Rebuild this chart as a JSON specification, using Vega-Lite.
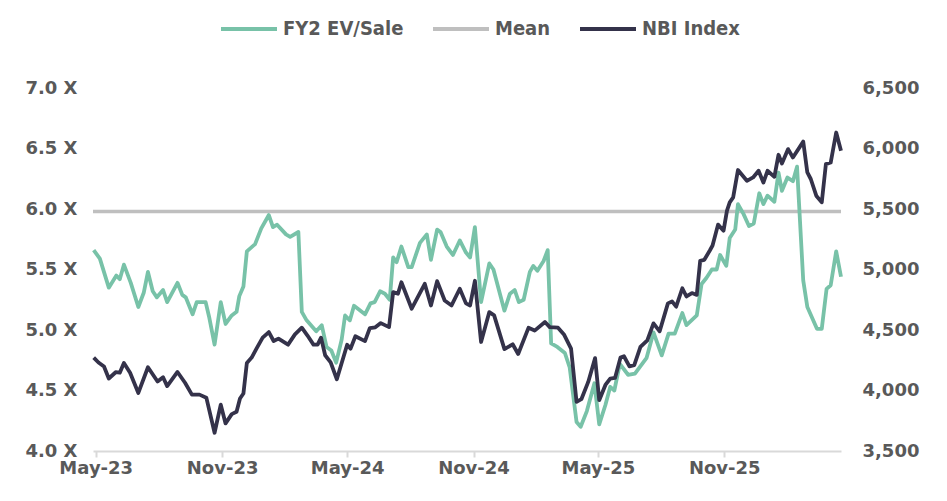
{
  "$schema": "https://vega.github.io/schema/vega-lite/v6.json",
  "width": 748,
  "height": 363,
  "autosize": "none",
  "padding": {"left": 93, "top": 88, "right": 106, "bottom": 50},
  "background": "white",
  "config": {
    "view": {"stroke": null},
    "font": "DejaVu Sans",
    "axis": {"labelFont": "DejaVu Sans", "labelFontWeight": "bold", "labelFontSize": 18, "labelColor": "#595959", "grid": false, "title": null}
  },
  "datasets": {
    "ev": [
      {"date": "2023-04-28", "v": 5.66}, {"date": "2023-05-07", "v": 5.59}, {"date": "2023-05-20", "v": 5.35}, {"date": "2023-05-31", "v": 5.45},
      {"date": "2023-06-05", "v": 5.42}, {"date": "2023-06-11", "v": 5.54}, {"date": "2023-06-21", "v": 5.39}, {"date": "2023-07-02", "v": 5.19},
      {"date": "2023-07-10", "v": 5.31}, {"date": "2023-07-16", "v": 5.48}, {"date": "2023-07-23", "v": 5.32}, {"date": "2023-07-29", "v": 5.27},
      {"date": "2023-08-07", "v": 5.33}, {"date": "2023-08-13", "v": 5.23}, {"date": "2023-08-28", "v": 5.39}, {"date": "2023-09-04", "v": 5.29},
      {"date": "2023-09-09", "v": 5.27}, {"date": "2023-09-19", "v": 5.13}, {"date": "2023-09-25", "v": 5.23}, {"date": "2023-10-08", "v": 5.23},
      {"date": "2023-10-13", "v": 5.11}, {"date": "2023-10-21", "v": 4.88}, {"date": "2023-10-30", "v": 5.23}, {"date": "2023-11-06", "v": 5.05},
      {"date": "2023-11-15", "v": 5.12}, {"date": "2023-11-22", "v": 5.15}, {"date": "2023-11-26", "v": 5.28}, {"date": "2023-12-02", "v": 5.36},
      {"date": "2023-12-07", "v": 5.65}, {"date": "2023-12-19", "v": 5.71}, {"date": "2023-12-28", "v": 5.84}, {"date": "2024-01-08", "v": 5.95},
      {"date": "2024-01-14", "v": 5.85}, {"date": "2024-01-20", "v": 5.87}, {"date": "2024-02-02", "v": 5.79}, {"date": "2024-02-08", "v": 5.77},
      {"date": "2024-02-20", "v": 5.81}, {"date": "2024-02-25", "v": 5.15}, {"date": "2024-03-03", "v": 5.08}, {"date": "2024-03-17", "v": 4.99},
      {"date": "2024-03-25", "v": 5.04}, {"date": "2024-04-01", "v": 4.86}, {"date": "2024-04-08", "v": 4.83}, {"date": "2024-04-15", "v": 4.73},
      {"date": "2024-04-23", "v": 4.92}, {"date": "2024-04-28", "v": 5.12}, {"date": "2024-05-05", "v": 5.08}, {"date": "2024-05-11", "v": 5.2},
      {"date": "2024-05-27", "v": 5.13}, {"date": "2024-06-04", "v": 5.22}, {"date": "2024-06-10", "v": 5.23}, {"date": "2024-06-18", "v": 5.32},
      {"date": "2024-06-25", "v": 5.3}, {"date": "2024-07-02", "v": 5.25}, {"date": "2024-07-07", "v": 5.6}, {"date": "2024-07-12", "v": 5.56},
      {"date": "2024-07-19", "v": 5.69}, {"date": "2024-07-29", "v": 5.52}, {"date": "2024-08-03", "v": 5.52}, {"date": "2024-08-15", "v": 5.72},
      {"date": "2024-08-25", "v": 5.79}, {"date": "2024-08-31", "v": 5.58}, {"date": "2024-09-09", "v": 5.83}, {"date": "2024-09-14", "v": 5.81},
      {"date": "2024-09-23", "v": 5.69}, {"date": "2024-10-02", "v": 5.62}, {"date": "2024-10-12", "v": 5.74}, {"date": "2024-10-21", "v": 5.64},
      {"date": "2024-10-27", "v": 5.6}, {"date": "2024-11-03", "v": 5.85}, {"date": "2024-11-12", "v": 5.23}, {"date": "2024-11-24", "v": 5.55},
      {"date": "2024-11-30", "v": 5.5}, {"date": "2024-12-16", "v": 5.16}, {"date": "2024-12-24", "v": 5.3}, {"date": "2024-12-31", "v": 5.33},
      {"date": "2025-01-06", "v": 5.23}, {"date": "2025-01-13", "v": 5.25}, {"date": "2025-01-22", "v": 5.48}, {"date": "2025-01-27", "v": 5.53},
      {"date": "2025-02-02", "v": 5.49}, {"date": "2025-02-11", "v": 5.57}, {"date": "2025-02-17", "v": 5.66}, {"date": "2025-02-22", "v": 4.89},
      {"date": "2025-03-03", "v": 4.86}, {"date": "2025-03-14", "v": 4.81}, {"date": "2025-03-21", "v": 4.69}, {"date": "2025-03-31", "v": 4.24},
      {"date": "2025-04-06", "v": 4.2}, {"date": "2025-04-15", "v": 4.33}, {"date": "2025-04-26", "v": 4.56}, {"date": "2025-05-03", "v": 4.22},
      {"date": "2025-05-12", "v": 4.38}, {"date": "2025-05-19", "v": 4.53}, {"date": "2025-05-25", "v": 4.5}, {"date": "2025-06-02", "v": 4.72},
      {"date": "2025-06-14", "v": 4.63}, {"date": "2025-06-24", "v": 4.64}, {"date": "2025-07-11", "v": 4.77}, {"date": "2025-07-21", "v": 4.98},
      {"date": "2025-08-02", "v": 4.79}, {"date": "2025-08-12", "v": 4.97}, {"date": "2025-08-21", "v": 4.97}, {"date": "2025-09-01", "v": 5.14},
      {"date": "2025-09-07", "v": 5.04}, {"date": "2025-09-22", "v": 5.12}, {"date": "2025-09-29", "v": 5.38}, {"date": "2025-10-06", "v": 5.43},
      {"date": "2025-10-14", "v": 5.5}, {"date": "2025-10-21", "v": 5.5}, {"date": "2025-10-26", "v": 5.62}, {"date": "2025-11-04", "v": 5.53},
      {"date": "2025-11-09", "v": 5.76}, {"date": "2025-11-17", "v": 5.83}, {"date": "2025-11-21", "v": 6.04}, {"date": "2025-11-29", "v": 5.96},
      {"date": "2025-12-07", "v": 5.86}, {"date": "2025-12-14", "v": 5.88}, {"date": "2025-12-22", "v": 6.13}, {"date": "2025-12-28", "v": 6.04},
      {"date": "2026-01-03", "v": 6.11}, {"date": "2026-01-13", "v": 6.06}, {"date": "2026-01-19", "v": 6.3}, {"date": "2026-01-24", "v": 6.15},
      {"date": "2026-02-01", "v": 6.26}, {"date": "2026-02-09", "v": 6.23}, {"date": "2026-02-15", "v": 6.35}, {"date": "2026-02-24", "v": 5.41},
      {"date": "2026-03-02", "v": 5.19}, {"date": "2026-03-16", "v": 5.01}, {"date": "2026-03-23", "v": 5.01}, {"date": "2026-03-30", "v": 5.34},
      {"date": "2026-04-05", "v": 5.37}, {"date": "2026-04-13", "v": 5.65}, {"date": "2026-04-20", "v": 5.44}
    ],
    "nbi": [
      {"date": "2023-04-28", "v": 4272}, {"date": "2023-05-05", "v": 4231}, {"date": "2023-05-13", "v": 4198}, {"date": "2023-05-20", "v": 4099},
      {"date": "2023-05-30", "v": 4151}, {"date": "2023-06-05", "v": 4147}, {"date": "2023-06-11", "v": 4228}, {"date": "2023-06-20", "v": 4147},
      {"date": "2023-07-02", "v": 3980}, {"date": "2023-07-16", "v": 4192}, {"date": "2023-07-30", "v": 4074}, {"date": "2023-08-07", "v": 4110},
      {"date": "2023-08-13", "v": 4036}, {"date": "2023-08-28", "v": 4153}, {"date": "2023-09-08", "v": 4064}, {"date": "2023-09-18", "v": 3966},
      {"date": "2023-09-29", "v": 3966}, {"date": "2023-10-09", "v": 3941}, {"date": "2023-10-21", "v": 3651}, {"date": "2023-10-30", "v": 3883},
      {"date": "2023-11-06", "v": 3728}, {"date": "2023-11-15", "v": 3805}, {"date": "2023-11-22", "v": 3824}, {"date": "2023-11-27", "v": 3934},
      {"date": "2023-12-02", "v": 3975}, {"date": "2023-12-07", "v": 4228}, {"date": "2023-12-14", "v": 4272}, {"date": "2023-12-21", "v": 4346},
      {"date": "2023-12-30", "v": 4437}, {"date": "2024-01-08", "v": 4483}, {"date": "2024-01-15", "v": 4409}, {"date": "2024-01-22", "v": 4429},
      {"date": "2024-02-05", "v": 4379}, {"date": "2024-02-15", "v": 4464}, {"date": "2024-02-25", "v": 4519}, {"date": "2024-03-04", "v": 4456},
      {"date": "2024-03-13", "v": 4379}, {"date": "2024-03-19", "v": 4379}, {"date": "2024-03-24", "v": 4437}, {"date": "2024-03-30", "v": 4291},
      {"date": "2024-04-07", "v": 4233}, {"date": "2024-04-16", "v": 4093}, {"date": "2024-05-01", "v": 4378}, {"date": "2024-05-06", "v": 4346},
      {"date": "2024-05-13", "v": 4448}, {"date": "2024-05-27", "v": 4408}, {"date": "2024-06-03", "v": 4515}, {"date": "2024-06-11", "v": 4522},
      {"date": "2024-06-19", "v": 4557}, {"date": "2024-07-01", "v": 4524}, {"date": "2024-07-07", "v": 4813}, {"date": "2024-07-14", "v": 4800},
      {"date": "2024-07-19", "v": 4895}, {"date": "2024-08-03", "v": 4676}, {"date": "2024-08-22", "v": 4882}, {"date": "2024-08-31", "v": 4703},
      {"date": "2024-09-09", "v": 4904}, {"date": "2024-09-20", "v": 4744}, {"date": "2024-09-30", "v": 4703}, {"date": "2024-10-12", "v": 4841},
      {"date": "2024-10-21", "v": 4720}, {"date": "2024-10-27", "v": 4703}, {"date": "2024-11-03", "v": 4907}, {"date": "2024-11-12", "v": 4401},
      {"date": "2024-11-24", "v": 4648}, {"date": "2024-12-01", "v": 4621}, {"date": "2024-12-16", "v": 4342}, {"date": "2024-12-28", "v": 4382},
      {"date": "2025-01-05", "v": 4302}, {"date": "2025-01-20", "v": 4518}, {"date": "2025-01-29", "v": 4495}, {"date": "2025-02-13", "v": 4566},
      {"date": "2025-02-20", "v": 4524}, {"date": "2025-03-04", "v": 4519}, {"date": "2025-03-13", "v": 4460}, {"date": "2025-03-23", "v": 4346},
      {"date": "2025-03-31", "v": 3906}, {"date": "2025-04-07", "v": 3928}, {"date": "2025-04-17", "v": 4071}, {"date": "2025-04-27", "v": 4268},
      {"date": "2025-05-03", "v": 3920}, {"date": "2025-05-12", "v": 4046}, {"date": "2025-05-19", "v": 4099}, {"date": "2025-05-26", "v": 4104},
      {"date": "2025-06-03", "v": 4272}, {"date": "2025-06-08", "v": 4283}, {"date": "2025-06-16", "v": 4200}, {"date": "2025-06-23", "v": 4209},
      {"date": "2025-07-02", "v": 4360}, {"date": "2025-07-12", "v": 4415}, {"date": "2025-07-21", "v": 4555}, {"date": "2025-07-30", "v": 4489},
      {"date": "2025-08-11", "v": 4720}, {"date": "2025-08-17", "v": 4736}, {"date": "2025-08-23", "v": 4693}, {"date": "2025-09-01", "v": 4845},
      {"date": "2025-09-07", "v": 4777}, {"date": "2025-09-15", "v": 4805}, {"date": "2025-09-22", "v": 4790}, {"date": "2025-09-27", "v": 5072},
      {"date": "2025-10-03", "v": 5080}, {"date": "2025-10-11", "v": 5157}, {"date": "2025-10-15", "v": 5198}, {"date": "2025-10-23", "v": 5371},
      {"date": "2025-10-31", "v": 5321}, {"date": "2025-11-05", "v": 5486}, {"date": "2025-11-09", "v": 5555}, {"date": "2025-11-14", "v": 5596},
      {"date": "2025-11-21", "v": 5822}, {"date": "2025-12-04", "v": 5733}, {"date": "2025-12-13", "v": 5761}, {"date": "2025-12-21", "v": 5816},
      {"date": "2025-12-28", "v": 5719}, {"date": "2026-01-03", "v": 5816}, {"date": "2026-01-13", "v": 5766}, {"date": "2026-01-19", "v": 5948},
      {"date": "2026-01-24", "v": 5876}, {"date": "2026-02-02", "v": 5995}, {"date": "2026-02-09", "v": 5926}, {"date": "2026-02-24", "v": 6057},
      {"date": "2026-03-02", "v": 5802}, {"date": "2026-03-07", "v": 5748}, {"date": "2026-03-15", "v": 5610}, {"date": "2026-03-23", "v": 5555},
      {"date": "2026-03-29", "v": 5871}, {"date": "2026-04-05", "v": 5884}, {"date": "2026-04-13", "v": 6132}, {"date": "2026-04-20", "v": 5981}
    ],
    "mean": [{"v": 5.98}]
  },
  "layer": [
    {
      "layer": [
        {
          "data": {"name": "mean"},
          "mark": {"type": "rule", "strokeWidth": 3.5},
          "encoding": {
            "y": {"field": "v", "type": "quantitative", "scale": {"domain": [4, 7], "nice": false, "zero": false}},
            "color": {"datum": "Mean"}
          }
        },
        {
          "data": {"name": "ev"},
          "mark": {"type": "line", "strokeWidth": 3.8, "strokeJoin": "round"},
          "encoding": {
            "x": {
              "field": "date", "type": "temporal",
              "scale": {"domain": ["2023-04-27", "2026-04-20"], "nice": false},
              "axis": {
                "format": "%b-%y",
                "values": [
                  {"year": 2023, "month": 5, "date": 1}, {"year": 2023, "month": 11, "date": 1},
                  {"year": 2024, "month": 5, "date": 1}, {"year": 2024, "month": 11, "date": 1},
                  {"year": 2025, "month": 5, "date": 1}, {"year": 2025, "month": 11, "date": 1}
                ],
                "domainColor": "#D9D9D9", "domainWidth": 2, "tickColor": "#D9D9D9", "tickWidth": 2, "tickSize": 6,
                "labelPadding": 2, "labelFlush": false, "labelOverlap": false
              }
            },
            "y": {
              "field": "v", "type": "quantitative",
              "scale": {"domain": [4, 7], "nice": false, "zero": false},
              "axis": {
                "orient": "left", "values": [4, 4.5, 5, 5.5, 6, 6.5, 7],
                "labelExpr": "format(datum.value, '.1f') + ' X'",
                "domain": false, "ticks": false, "labelPadding": 16
              }
            },
            "color": {"datum": "FY2 EV/Sale"}
          }
        }
      ]
    },
    {
      "data": {"name": "nbi"},
      "mark": {"type": "line", "strokeWidth": 3.8, "strokeJoin": "round"},
      "encoding": {
        "x": {"field": "date", "type": "temporal"},
        "y": {
          "field": "v", "type": "quantitative",
          "scale": {"domain": [3500, 6500], "nice": false, "zero": false},
          "axis": {
            "orient": "right", "values": [3500, 4000, 4500, 5000, 5500, 6000, 6500],
            "labelExpr": "format(datum.value, ',.0f')", "domain": false, "ticks": false, "labelPadding": 21
          }
        },
        "color": {
          "datum": "NBI Index",
          "scale": {"domain": ["FY2 EV/Sale", "Mean", "NBI Index"], "range": ["#78C2A8", "#BFBFBF", "#34324A"]},
          "legend": {
            "title": null, "orient": "none", "direction": "horizontal",
            "legendX": 126, "legendY": -89, "padding": 0,
            "symbolType": "stroke", "symbolSize": 3136, "symbolStrokeWidth": 4,
            "labelFont": "DejaVu Sans Condensed", "labelFontWeight": "bold", "labelFontSize": 20, "labelColor": "#595959",
            "labelOffset": 4, "columnPadding": 21
          }
        }
      }
    }
  ],
  "resolve": {"scale": {"y": "independent"}}
}
